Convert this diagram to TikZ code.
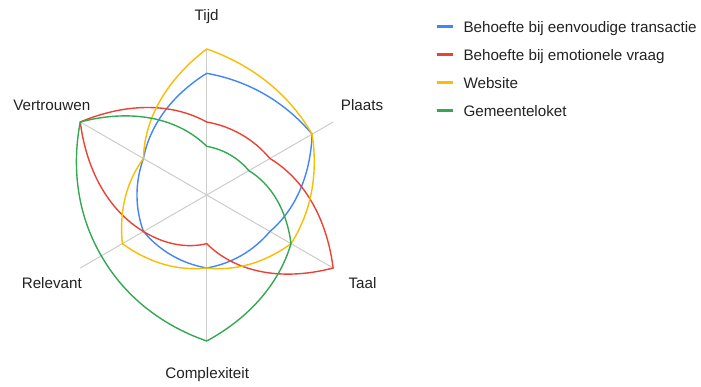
\documentclass[tikz,border=0pt]{standalone}
\usepackage{fontspec}
\setmainfont{Liberation Sans}
\definecolor{seriesblue}{HTML}{4285F4}
\definecolor{seriesred}{HTML}{EA4335}
\definecolor{seriesyellow}{HTML}{FBBC04}
\definecolor{seriesgreen}{HTML}{34A853}
\definecolor{gridgray}{HTML}{CCCCCC}
\definecolor{labeltext}{HTML}{222222}

% One curved piece between two neighbouring spokes: start angle, start value, end value.
% The control points lie on the spiral whose radius changes linearly with the angle.
\newcommand\radarseg[3]{%
  .. controls ({#1-20}:{(2*#2+#3)/3*\rstep}) and ({#1-40}:{(#2+2*#3)/3*\rstep}) .. ({#1-60}:{#3*\rstep})}

% One radar series: colour, then the six values (0..6) for
% Tijd, Plaats, Taal, Complexiteit, Relevant, Vertrouwen.
\newcommand\radarseries[7]{%
  \draw[series,#1] (90:{#2*\rstep})
    \radarseg{90}{#2}{#3}
    \radarseg{30}{#3}{#4}
    \radarseg{-30}{#4}{#5}
    \radarseg{-90}{#5}{#6}
    \radarseg{-150}{#6}{#7}
    \radarseg{-210}{#7}{#2}
    -- cycle;}

\begin{document}
\begin{tikzpicture}[x=1pt,y=1pt,
  axisline/.style={draw=gridgray,line width=1pt},
  series/.style={line width=1.4pt,line join=miter},
  txt/.style={font=\fontsize{15.2}{18}\selectfont,text=labeltext,inner sep=0pt},
  axislabel/.style={txt,anchor=base},
  legendtext/.style={txt,anchor=base west},
  legendbar/.style={line width=3.4pt}]
\useasboundingbox (0,0) rectangle (701,386);
\def\rstep{24.3333}

\begin{scope}[shift={(206.7,191)}]
  \coordinate (ctr) at (0,0);
  \coordinate (ax-tijd)   at (90:146);
  \coordinate (ax-plaats) at (30:146);
  \coordinate (ax-taal)   at (-30:146);
  \coordinate (ax-compl)  at (-90:146);
  \coordinate (ax-rel)    at (-150:146);
  \coordinate (ax-vertr)  at (150:146);
  \foreach \a in {tijd,plaats,taal,compl,rel,vertr}
    \draw[axisline] (ctr) -- (ax-\a);

  \radarseries{seriesblue}{5}{5}{3}{3}{3}{3}
  \radarseries{seriesred}{3}{3}{6}{2}{3}{6}
  \radarseries{seriesyellow}{6}{5}{4}{3}{4}{3}
  \radarseries{seriesgreen}{2}{2}{4}{6}{5}{6}
\end{scope}

% spoke labels
\node[axislabel] (l-tijd)   at (206.7,365.7) {Tijd};
\node[axislabel] (l-plaats) at (362.0,275.0) {Plaats};
\node[axislabel] (l-taal)   at (362.5,97.4)  {Taal};
\node[axislabel] (l-compl)  at (207.2,7.7)   {Complexiteit};
\node[axislabel] (l-rel)    at (51.8,97.7)   {Relevant};
\node[axislabel] (l-vertr)  at (51.8,275.7)  {Vertrouwen};

% legend
\coordinate (b1a) at (436.7,359.3); \coordinate (b1b) at (452.7,359.3);
\coordinate (b2a) at (436.7,331.7); \coordinate (b2b) at (452.7,331.7);
\coordinate (b3a) at (436.7,303.3); \coordinate (b3b) at (452.7,303.3);
\coordinate (b4a) at (436.7,275.3); \coordinate (b4b) at (452.7,275.3);
\draw[legendbar,seriesblue]   (b1a) -- (b1b);
\draw[legendbar,seriesred]    (b2a) -- (b2b);
\draw[legendbar,seriesyellow] (b3a) -- (b3b);
\draw[legendbar,seriesgreen]  (b4a) -- (b4b);
\node[legendtext] (t1) at (463.3,353.3) {Behoefte bij eenvoudige transactie};
\node[legendtext] (t2) at (463.3,325.7) {Behoefte bij emotionele vraag};
\node[legendtext] (t3) at (463.3,297.3) {Website};
\node[legendtext] (t4) at (463.3,269.3) {Gemeenteloket};
\end{tikzpicture}
\end{document}
